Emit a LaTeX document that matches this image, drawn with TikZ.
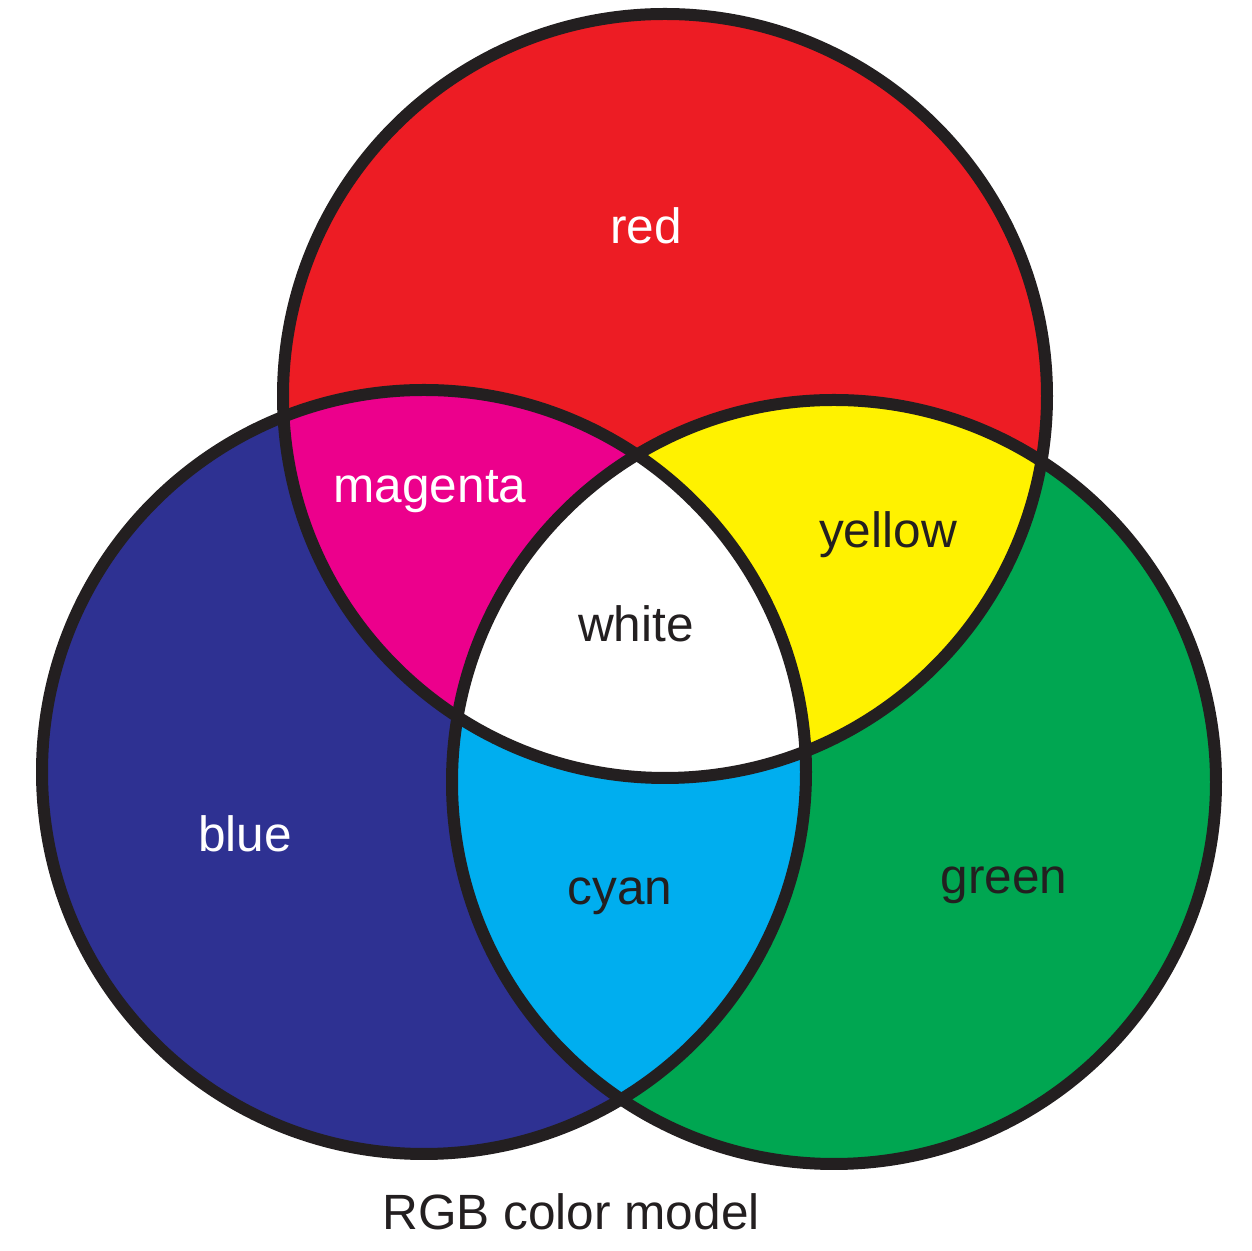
\documentclass[tikz,border=0pt]{standalone}
\usepackage{fontspec}
\setmainfont{Liberation Sans}
\usepackage{xcolor}
\usepackage{tikz}
\usetikzlibrary{positioning}

\definecolor{rgbred}{HTML}{ED1C24}
\definecolor{rgbgreen}{HTML}{00A651}
\definecolor{rgbblue}{HTML}{2E3192}
\definecolor{rgbcyan}{HTML}{00AEEF}
\definecolor{rgbmagenta}{HTML}{EC008C}
\definecolor{rgbyellow}{HTML}{FFF200}
\definecolor{inkdark}{HTML}{231F20}

\tikzset{
    ring/.style={draw=inkdark, line width=0.12cm},
    lbl/.style={font=\fontsize{14.1}{17}\selectfont, anchor=base, inner sep=0pt},
    lbllight/.style={lbl, text=white},
    lbldark/.style={lbl, text=inkdark}
}

\begin{document}
\begin{tikzpicture}

\useasboundingbox (0,0) rectangle (12.52,-12.51);

% circle centres
\coordinate (cR) at (6.65,-3.96);
\coordinate (cB) at (4.24,-7.72);
\coordinate (cG) at (8.34,-7.82);
\def\rad{3.82}

% base fills
\fill[rgbblue] (cB) circle (\rad);
\fill[rgbgreen] (cG) circle (\rad);
\fill[rgbred] (cR) circle (\rad);

% overlaps of two
\begin{scope}
    \clip (cR) circle (\rad);
    \fill[rgbmagenta] (cB) circle (\rad);
    \fill[rgbyellow] (cG) circle (\rad);
\end{scope}
\begin{scope}
    \clip (cB) circle (\rad);
    \fill[rgbcyan] (cG) circle (\rad);
\end{scope}

% overlap of all three
\begin{scope}
    \clip (cR) circle (\rad);
    \clip (cB) circle (\rad);
    \fill[white] (cG) circle (\rad);
\end{scope}

% outlines
\draw[ring] (cR) circle (\rad);
\draw[ring] (cB) circle (\rad);
\draw[ring] (cG) circle (\rad);

% labels
\node[lbllight] (red) at (6.46,-2.44) {red};
\node[lbllight] (magenta) at (4.30,-5.03) {magenta};
\node[lbldark] (yellow) at (8.88,-5.48) {yellow};
\node[lbldark] (white) at (6.36,-6.42) {white};
\node[lbllight] (blue) at (2.45,-8.52) {blue};
\node[lbldark] (cyan) at (6.20,-9.05) {cyan};
\node[lbldark] (green) at (10.04,-8.94) {green};
\node[lbldark] (title) at (5.71,-12.30) {RGB color model};

\end{tikzpicture}
\end{document}
